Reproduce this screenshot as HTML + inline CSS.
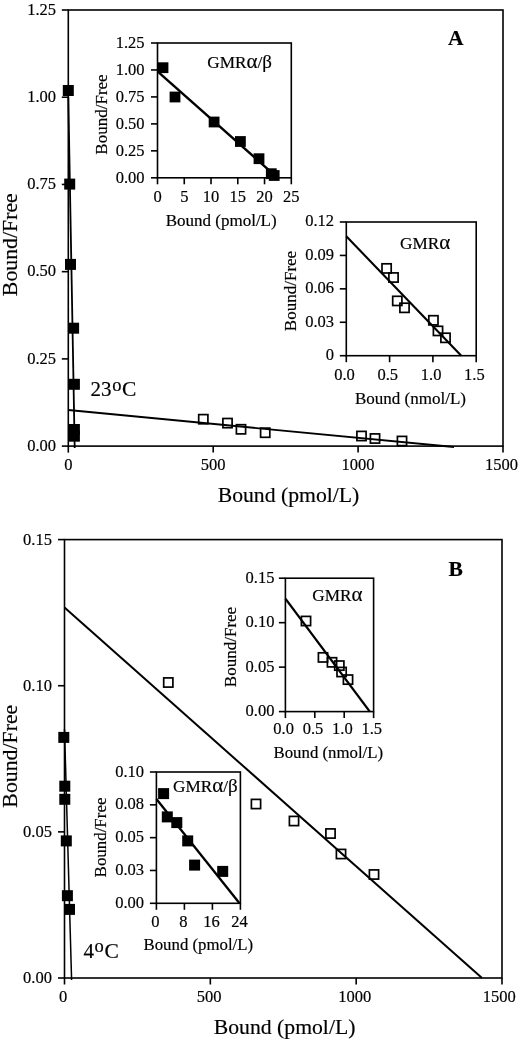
<!DOCTYPE html>
<html lang="en">
<head>
<meta charset="utf-8">
<title>Scatchard analysis</title>
<style>
html,body{margin:0;padding:0;background:#fff;}
body{width:520px;height:1040px;overflow:hidden;}
svg{display:block;will-change:transform;}
svg text{font-family:"Liberation Serif",serif;fill:#000;stroke:#000;stroke-width:0.18px;}
svg line{stroke:#000;}
</style>
</head>
<body>
<svg width="520" height="1040" viewBox="0 0 520 1040">
<rect x="0" y="0" width="520" height="1040" fill="#fff"/>
<rect x="68.30" y="10.00" width="434.70" height="436.10" fill="none" stroke="#000" stroke-width="1.6"/>
<line x1="68.30" y1="446.10" x2="68.30" y2="452.60" stroke-width="1.6" />
<text x="68.30" y="470.40" font-size="16.5" text-anchor="middle" >0</text>
<line x1="213.20" y1="446.10" x2="213.20" y2="452.60" stroke-width="1.6" />
<text x="213.20" y="470.40" font-size="16.5" text-anchor="middle" >500</text>
<line x1="358.10" y1="446.10" x2="358.10" y2="452.60" stroke-width="1.6" />
<text x="358.10" y="470.40" font-size="16.5" text-anchor="middle" >1000</text>
<line x1="503.00" y1="446.10" x2="503.00" y2="452.60" stroke-width="1.6" />
<text x="501.50" y="470.40" font-size="16.5" text-anchor="middle" >1500</text>
<line x1="61.80" y1="446.10" x2="68.30" y2="446.10" stroke-width="1.6" />
<text x="56.00" y="450.80" font-size="16.5" text-anchor="end" >0.00</text>
<line x1="61.80" y1="358.88" x2="68.30" y2="358.88" stroke-width="1.6" />
<text x="56.00" y="363.58" font-size="16.5" text-anchor="end" >0.25</text>
<line x1="61.80" y1="271.66" x2="68.30" y2="271.66" stroke-width="1.6" />
<text x="56.00" y="276.36" font-size="16.5" text-anchor="end" >0.50</text>
<line x1="61.80" y1="184.44" x2="68.30" y2="184.44" stroke-width="1.6" />
<text x="56.00" y="189.14" font-size="16.5" text-anchor="end" >0.75</text>
<line x1="61.80" y1="97.22" x2="68.30" y2="97.22" stroke-width="1.6" />
<text x="56.00" y="101.92" font-size="16.5" text-anchor="end" >1.00</text>
<line x1="61.80" y1="10.00" x2="68.30" y2="10.00" stroke-width="1.6" />
<text x="56.00" y="14.70" font-size="16.5" text-anchor="end" >1.25</text>
<text x="288.50" y="502.00" font-size="21.7" text-anchor="middle" >Bound (pmol/L)</text>
<text transform="translate(16.60,244.70) rotate(-90)" font-size="21.8" text-anchor="middle">Bound/Free</text>
<text x="455.80" y="45.30" font-size="21.5" text-anchor="middle" font-weight="bold">A</text>
<line x1="68.30" y1="97.00" x2="74.70" y2="448.00" stroke-width="1.8" />
<line x1="68.30" y1="410.00" x2="454.00" y2="447.00" stroke-width="1.8" />
<rect x="62.80" y="85.00" width="11" height="11" fill="#000" stroke="none"/>
<rect x="64.20" y="178.60" width="11" height="11" fill="#000" stroke="none"/>
<rect x="65.00" y="258.90" width="11" height="11" fill="#000" stroke="none"/>
<rect x="68.10" y="322.70" width="11" height="11" fill="#000" stroke="none"/>
<rect x="68.90" y="378.80" width="11" height="11" fill="#000" stroke="none"/>
<rect x="68.90" y="424.00" width="11" height="11" fill="#000" stroke="none"/>
<rect x="68.90" y="430.70" width="11" height="11" fill="#000" stroke="none"/>
<rect x="198.70" y="414.60" width="9.2" height="9.2" fill="none" stroke="#000" stroke-width="1.7"/>
<rect x="222.90" y="418.50" width="9.2" height="9.2" fill="none" stroke="#000" stroke-width="1.7"/>
<rect x="236.40" y="424.70" width="9.2" height="9.2" fill="none" stroke="#000" stroke-width="1.7"/>
<rect x="260.60" y="428.10" width="9.2" height="9.2" fill="none" stroke="#000" stroke-width="1.7"/>
<rect x="356.90" y="431.40" width="9.2" height="9.2" fill="none" stroke="#000" stroke-width="1.7"/>
<rect x="370.40" y="433.90" width="9.2" height="9.2" fill="none" stroke="#000" stroke-width="1.7"/>
<rect x="397.40" y="436.40" width="9.2" height="9.2" fill="none" stroke="#000" stroke-width="1.7"/>
<text x="90.6" y="396.2" font-size="21">23<tspan dx="0.6" dy="-5.6" font-size="18.5">o</tspan><tspan dx="0.6" dy="5.6" font-size="21.5">C</tspan></text>
<rect x="157.50" y="43.00" width="133.80" height="134.80" fill="none" stroke="#000" stroke-width="1.6"/>
<line x1="157.50" y1="177.80" x2="157.50" y2="184.30" stroke-width="1.6" />
<text x="157.50" y="202.00" font-size="16.5" text-anchor="middle" >0</text>
<line x1="184.26" y1="177.80" x2="184.26" y2="184.30" stroke-width="1.6" />
<text x="184.26" y="202.00" font-size="16.5" text-anchor="middle" >5</text>
<line x1="211.02" y1="177.80" x2="211.02" y2="184.30" stroke-width="1.6" />
<text x="211.02" y="202.00" font-size="16.5" text-anchor="middle" >10</text>
<line x1="237.78" y1="177.80" x2="237.78" y2="184.30" stroke-width="1.6" />
<text x="237.78" y="202.00" font-size="16.5" text-anchor="middle" >15</text>
<line x1="264.54" y1="177.80" x2="264.54" y2="184.30" stroke-width="1.6" />
<text x="264.54" y="202.00" font-size="16.5" text-anchor="middle" >20</text>
<line x1="291.30" y1="177.80" x2="291.30" y2="184.30" stroke-width="1.6" />
<text x="291.30" y="202.00" font-size="16.5" text-anchor="middle" >25</text>
<line x1="151.00" y1="177.80" x2="157.50" y2="177.80" stroke-width="1.6" />
<text x="144.50" y="182.80" font-size="16.5" text-anchor="end" >0.00</text>
<line x1="151.00" y1="150.84" x2="157.50" y2="150.84" stroke-width="1.6" />
<text x="144.50" y="155.84" font-size="16.5" text-anchor="end" >0.25</text>
<line x1="151.00" y1="123.88" x2="157.50" y2="123.88" stroke-width="1.6" />
<text x="144.50" y="128.88" font-size="16.5" text-anchor="end" >0.50</text>
<line x1="151.00" y1="96.92" x2="157.50" y2="96.92" stroke-width="1.6" />
<text x="144.50" y="101.92" font-size="16.5" text-anchor="end" >0.75</text>
<line x1="151.00" y1="69.96" x2="157.50" y2="69.96" stroke-width="1.6" />
<text x="144.50" y="74.96" font-size="16.5" text-anchor="end" >1.00</text>
<line x1="151.00" y1="43.00" x2="157.50" y2="43.00" stroke-width="1.6" />
<text x="144.50" y="48.00" font-size="16.5" text-anchor="end" >1.25</text>
<line x1="157.50" y1="71.30" x2="277.60" y2="177.80" stroke-width="2.4" />
<rect x="157.60" y="62.30" width="10.8" height="10.8" fill="#000" stroke="none"/>
<rect x="169.60" y="91.60" width="10.8" height="10.8" fill="#000" stroke="none"/>
<rect x="208.70" y="116.60" width="10.8" height="10.8" fill="#000" stroke="none"/>
<rect x="235.00" y="136.10" width="10.8" height="10.8" fill="#000" stroke="none"/>
<rect x="253.60" y="153.30" width="10.8" height="10.8" fill="#000" stroke="none"/>
<rect x="265.90" y="168.30" width="10.8" height="10.8" fill="#000" stroke="none"/>
<rect x="268.80" y="170.10" width="10.8" height="10.8" fill="#000" stroke="none"/>
<text x="207.30" y="68.40" font-size="17.2" text-anchor="start" >GMR<tspan font-size="21">α</tspan>/<tspan font-size="19">β</tspan></text>
<text x="221.20" y="225.70" font-size="17" text-anchor="middle" >Bound (pmol/L)</text>
<text transform="translate(106.70,114.50) rotate(-90)" font-size="17" text-anchor="middle">Bound/Free</text>
<rect x="346.30" y="222.00" width="129.90" height="133.70" fill="none" stroke="#000" stroke-width="1.6"/>
<line x1="346.30" y1="355.70" x2="346.30" y2="362.20" stroke-width="1.6" />
<text x="344.50" y="380.20" font-size="16.5" text-anchor="middle" >0.0</text>
<line x1="389.60" y1="355.70" x2="389.60" y2="362.20" stroke-width="1.6" />
<text x="387.80" y="380.20" font-size="16.5" text-anchor="middle" >0.5</text>
<line x1="432.90" y1="355.70" x2="432.90" y2="362.20" stroke-width="1.6" />
<text x="431.10" y="380.20" font-size="16.5" text-anchor="middle" >1.0</text>
<line x1="476.20" y1="355.70" x2="476.20" y2="362.20" stroke-width="1.6" />
<text x="474.40" y="380.20" font-size="16.5" text-anchor="middle" >1.5</text>
<line x1="339.80" y1="355.70" x2="346.30" y2="355.70" stroke-width="1.6" />
<text x="334.00" y="360.10" font-size="16.5" text-anchor="end" >0</text>
<line x1="339.80" y1="322.27" x2="346.30" y2="322.27" stroke-width="1.6" />
<text x="334.00" y="326.67" font-size="16.5" text-anchor="end" >0.03</text>
<line x1="339.80" y1="288.85" x2="346.30" y2="288.85" stroke-width="1.6" />
<text x="334.00" y="293.25" font-size="16.5" text-anchor="end" >0.06</text>
<line x1="339.80" y1="255.43" x2="346.30" y2="255.43" stroke-width="1.6" />
<text x="334.00" y="259.82" font-size="16.5" text-anchor="end" >0.09</text>
<line x1="339.80" y1="222.00" x2="346.30" y2="222.00" stroke-width="1.6" />
<text x="334.00" y="226.40" font-size="16.5" text-anchor="end" >0.12</text>
<line x1="346.30" y1="236.30" x2="461.30" y2="355.70" stroke-width="2.1" />
<rect x="382.00" y="263.80" width="9.2" height="9.2" fill="none" stroke="#000" stroke-width="1.7"/>
<rect x="388.90" y="272.90" width="9.2" height="9.2" fill="none" stroke="#000" stroke-width="1.7"/>
<rect x="392.70" y="296.30" width="9.2" height="9.2" fill="none" stroke="#000" stroke-width="1.7"/>
<rect x="399.90" y="303.20" width="9.2" height="9.2" fill="none" stroke="#000" stroke-width="1.7"/>
<rect x="428.80" y="315.70" width="9.2" height="9.2" fill="none" stroke="#000" stroke-width="1.7"/>
<rect x="433.40" y="326.30" width="9.2" height="9.2" fill="none" stroke="#000" stroke-width="1.7"/>
<rect x="440.90" y="333.20" width="9.2" height="9.2" fill="none" stroke="#000" stroke-width="1.7"/>
<text x="400.10" y="248.70" font-size="17.2" text-anchor="start" >GMR<tspan font-size="21">α</tspan></text>
<text x="410.50" y="404.00" font-size="17" text-anchor="middle" >Bound (nmol/L)</text>
<text transform="translate(296.00,291.00) rotate(-90)" font-size="17" text-anchor="middle">Bound/Free</text>
<rect x="64.50" y="539.60" width="437.50" height="438.40" fill="none" stroke="#000" stroke-width="1.6"/>
<line x1="64.50" y1="978.00" x2="64.50" y2="984.50" stroke-width="1.6" />
<text x="63.20" y="1002.30" font-size="16.5" text-anchor="middle" >0</text>
<line x1="210.33" y1="978.00" x2="210.33" y2="984.50" stroke-width="1.6" />
<text x="209.03" y="1002.30" font-size="16.5" text-anchor="middle" >500</text>
<line x1="356.17" y1="978.00" x2="356.17" y2="984.50" stroke-width="1.6" />
<text x="354.87" y="1002.30" font-size="16.5" text-anchor="middle" >1000</text>
<line x1="502.00" y1="978.00" x2="502.00" y2="984.50" stroke-width="1.6" />
<text x="499.20" y="1002.30" font-size="16.5" text-anchor="middle" >1500</text>
<line x1="58.00" y1="978.00" x2="64.50" y2="978.00" stroke-width="1.6" />
<text x="51.90" y="983.00" font-size="16.5" text-anchor="end" >0.00</text>
<line x1="58.00" y1="831.87" x2="64.50" y2="831.87" stroke-width="1.6" />
<text x="51.90" y="836.87" font-size="16.5" text-anchor="end" >0.05</text>
<line x1="58.00" y1="685.73" x2="64.50" y2="685.73" stroke-width="1.6" />
<text x="51.90" y="690.73" font-size="16.5" text-anchor="end" >0.10</text>
<line x1="58.00" y1="539.60" x2="64.50" y2="539.60" stroke-width="1.6" />
<text x="51.90" y="544.60" font-size="16.5" text-anchor="end" >0.15</text>
<text x="284.60" y="1033.80" font-size="21.7" text-anchor="middle" >Bound (pmol/L)</text>
<text transform="translate(17.10,756.20) rotate(-90)" font-size="21.8" text-anchor="middle">Bound/Free</text>
<text x="455.60" y="576.00" font-size="21.5" text-anchor="middle" font-weight="bold">B</text>
<line x1="64.50" y1="607.50" x2="482.00" y2="978.00" stroke-width="2" />
<line x1="64.50" y1="729.00" x2="71.60" y2="980.00" stroke-width="1.5" />
<rect x="58.30" y="731.90" width="11" height="11" fill="#000" stroke="none"/>
<rect x="59.30" y="780.70" width="11" height="11" fill="#000" stroke="none"/>
<rect x="59.30" y="793.80" width="11" height="11" fill="#000" stroke="none"/>
<rect x="60.80" y="835.40" width="11" height="11" fill="#000" stroke="none"/>
<rect x="61.90" y="890.20" width="11" height="11" fill="#000" stroke="none"/>
<rect x="64.00" y="903.90" width="11" height="11" fill="#000" stroke="none"/>
<rect x="163.70" y="677.90" width="9.2" height="9.2" fill="none" stroke="#000" stroke-width="1.7"/>
<rect x="251.40" y="799.40" width="9.2" height="9.2" fill="none" stroke="#000" stroke-width="1.7"/>
<rect x="289.40" y="816.40" width="9.2" height="9.2" fill="none" stroke="#000" stroke-width="1.7"/>
<rect x="325.90" y="828.90" width="9.2" height="9.2" fill="none" stroke="#000" stroke-width="1.7"/>
<rect x="336.40" y="849.40" width="9.2" height="9.2" fill="none" stroke="#000" stroke-width="1.7"/>
<rect x="369.40" y="869.90" width="9.2" height="9.2" fill="none" stroke="#000" stroke-width="1.7"/>
<text x="83.5" y="958" font-size="21">4<tspan dx="0.6" dy="-5.6" font-size="18.5">o</tspan><tspan dx="0.6" dy="5.6" font-size="21.5">C</tspan></text>
<rect x="156.40" y="772.00" width="84.00" height="131.30" fill="none" stroke="#000" stroke-width="1.6"/>
<line x1="156.40" y1="903.30" x2="156.40" y2="909.80" stroke-width="1.6" />
<text x="155.40" y="926.70" font-size="16.5" text-anchor="middle" >0</text>
<line x1="184.40" y1="903.30" x2="184.40" y2="909.80" stroke-width="1.6" />
<text x="183.40" y="926.70" font-size="16.5" text-anchor="middle" >8</text>
<line x1="212.40" y1="903.30" x2="212.40" y2="909.80" stroke-width="1.6" />
<text x="211.40" y="926.70" font-size="16.5" text-anchor="middle" >16</text>
<line x1="240.40" y1="903.30" x2="240.40" y2="909.80" stroke-width="1.6" />
<text x="239.40" y="926.70" font-size="16.5" text-anchor="middle" >24</text>
<line x1="149.90" y1="903.30" x2="156.40" y2="903.30" stroke-width="1.6" />
<text x="144.10" y="907.80" font-size="16.5" text-anchor="end" >0.00</text>
<line x1="149.90" y1="870.47" x2="156.40" y2="870.47" stroke-width="1.6" />
<text x="144.10" y="874.97" font-size="16.5" text-anchor="end" >0.03</text>
<line x1="149.90" y1="837.65" x2="156.40" y2="837.65" stroke-width="1.6" />
<text x="144.10" y="842.15" font-size="16.5" text-anchor="end" >0.05</text>
<line x1="149.90" y1="804.83" x2="156.40" y2="804.83" stroke-width="1.6" />
<text x="144.10" y="809.33" font-size="16.5" text-anchor="end" >0.08</text>
<line x1="149.90" y1="772.00" x2="156.40" y2="772.00" stroke-width="1.6" />
<text x="144.10" y="776.50" font-size="16.5" text-anchor="end" >0.10</text>
<line x1="156.40" y1="799.00" x2="239.50" y2="903.30" stroke-width="2.3" />
<rect x="158.10" y="788.10" width="11" height="11" fill="#000" stroke="none"/>
<rect x="161.80" y="811.40" width="11" height="11" fill="#000" stroke="none"/>
<rect x="171.30" y="817.10" width="11" height="11" fill="#000" stroke="none"/>
<rect x="182.20" y="835.40" width="11" height="11" fill="#000" stroke="none"/>
<rect x="189.10" y="859.60" width="11" height="11" fill="#000" stroke="none"/>
<rect x="217.20" y="865.90" width="11" height="11" fill="#000" stroke="none"/>
<text x="173.00" y="791.80" font-size="17.2" text-anchor="start" >GMR<tspan font-size="21">α</tspan>/<tspan font-size="19">β</tspan></text>
<text x="198.30" y="949.50" font-size="16.8" text-anchor="middle" >Bound (pmol/L)</text>
<text transform="translate(105.70,837.50) rotate(-90)" font-size="16.9" text-anchor="middle">Bound/Free</text>
<rect x="285.40" y="578.20" width="88.20" height="133.40" fill="none" stroke="#000" stroke-width="1.6"/>
<line x1="285.40" y1="711.60" x2="285.40" y2="718.10" stroke-width="1.6" />
<text x="283.60" y="734.40" font-size="16.5" text-anchor="middle" >0.0</text>
<line x1="314.80" y1="711.60" x2="314.80" y2="718.10" stroke-width="1.6" />
<text x="313.00" y="734.40" font-size="16.5" text-anchor="middle" >0.5</text>
<line x1="344.20" y1="711.60" x2="344.20" y2="718.10" stroke-width="1.6" />
<text x="342.40" y="734.40" font-size="16.5" text-anchor="middle" >1.0</text>
<line x1="373.60" y1="711.60" x2="373.60" y2="718.10" stroke-width="1.6" />
<text x="371.80" y="734.40" font-size="16.5" text-anchor="middle" >1.5</text>
<line x1="278.90" y1="711.60" x2="285.40" y2="711.60" stroke-width="1.6" />
<text x="274.40" y="716.30" font-size="16.5" text-anchor="end" >0.00</text>
<line x1="278.90" y1="667.13" x2="285.40" y2="667.13" stroke-width="1.6" />
<text x="274.40" y="671.83" font-size="16.5" text-anchor="end" >0.05</text>
<line x1="278.90" y1="622.67" x2="285.40" y2="622.67" stroke-width="1.6" />
<text x="274.40" y="627.37" font-size="16.5" text-anchor="end" >0.10</text>
<line x1="278.90" y1="578.20" x2="285.40" y2="578.20" stroke-width="1.6" />
<text x="274.40" y="582.90" font-size="16.5" text-anchor="end" >0.15</text>
<line x1="285.40" y1="598.60" x2="369.80" y2="711.60" stroke-width="2.3" />
<rect x="301.40" y="616.40" width="9.2" height="9.2" fill="none" stroke="#000" stroke-width="1.7"/>
<rect x="318.40" y="652.80" width="9.2" height="9.2" fill="none" stroke="#000" stroke-width="1.7"/>
<rect x="327.40" y="657.70" width="9.2" height="9.2" fill="none" stroke="#000" stroke-width="1.7"/>
<rect x="334.70" y="661.00" width="9.2" height="9.2" fill="none" stroke="#000" stroke-width="1.7"/>
<rect x="337.00" y="667.40" width="9.2" height="9.2" fill="none" stroke="#000" stroke-width="1.7"/>
<rect x="343.40" y="675.00" width="9.2" height="9.2" fill="none" stroke="#000" stroke-width="1.7"/>
<text x="312.30" y="601.00" font-size="17.2" text-anchor="start" >GMR<tspan font-size="21">α</tspan></text>
<text x="328.30" y="757.50" font-size="16.8" text-anchor="middle" >Bound (nmol/L)</text>
<text transform="translate(236.30,647.00) rotate(-90)" font-size="17" text-anchor="middle">Bound/Free</text>
</svg>
</body>
</html>
